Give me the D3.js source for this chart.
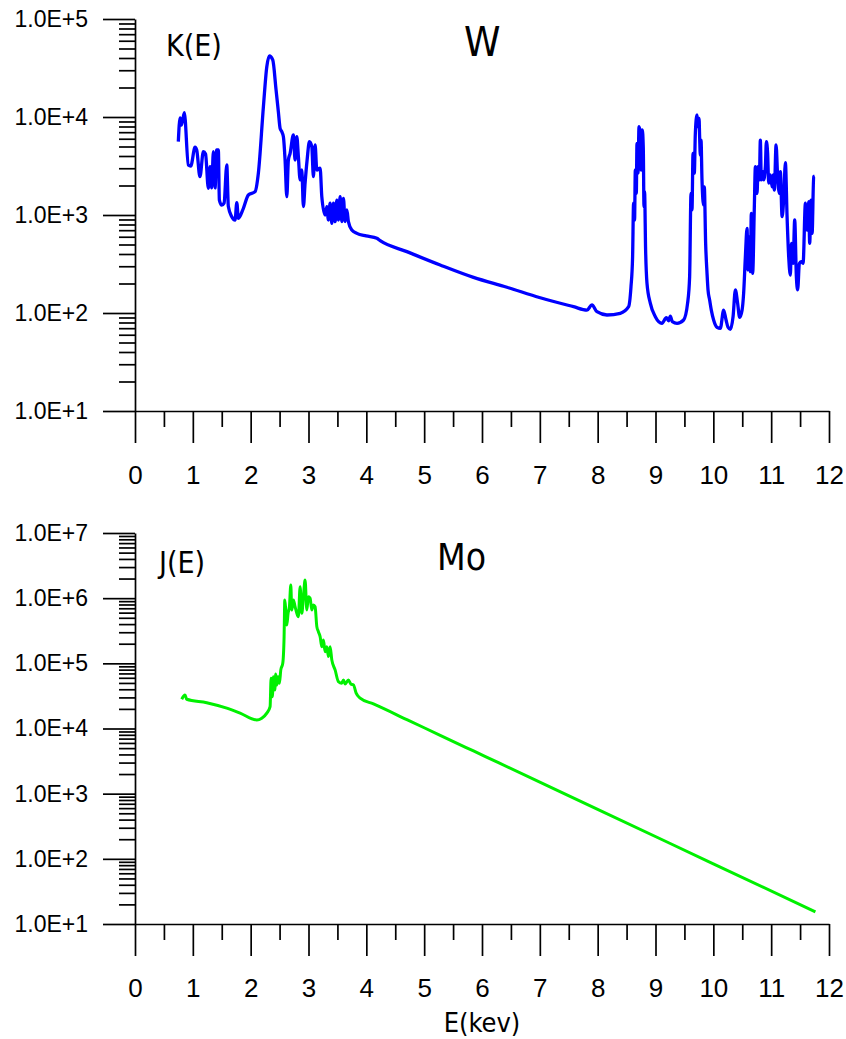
<!DOCTYPE html>
<html lang="en">
<head>
<meta charset="utf-8">
<style type="text/css">
  body { margin: 0; background: #fff; }
  svg { font-family: "DejaVu Sans Condensed", "DejaVu Sans", sans-serif; }
  .axis .domain, .axis .tick line { stroke: #000; stroke-width: 1.7px; }
  .axis text { fill: #000; }
</style>
</head>
<body>
<svg width="846" height="1039"></svg>

<script src="https://cdn.jsdelivr.net/npm/d3@7"></script>
<script type="text/javascript">
// energy axis ticks (keV)
var xTicks = [0, 1, 2, 3, 4, 5, 6, 7, 8, 9, 10, 11, 12];
var xMinor = [0.5, 1.5, 2.5, 3.5, 4.5, 5.5, 6.5, 7.5, 8.5, 9.5, 10.5, 11.5];
var yTicksW = [1e1, 1e2, 1e3, 1e4, 1e5];
var yTicksMo = [1e1, 1e2, 1e3, 1e4, 1e5, 1e6, 1e7];

// W : K(E)
var wE = [
  0.749,0.779,0.804,0.853,0.922,0.964,1.038,1.067,1.123,1.182,
  1.220,1.268,1.298,1.327,1.355,1.384,1.413,1.441,1.459,1.500,
  1.540,1.587,1.614,1.673,1.730,1.760,1.787,1.874,1.960,2.076,
  2.133,2.220,2.279,2.324,2.382,2.439,2.479,2.509,2.538,2.566,
  2.595,2.625,2.652,2.682,2.739,2.768,2.798,2.825,2.855,2.884,
  2.912,2.941,2.976,3.016,3.057,3.085,3.114,3.144,3.201,3.230,
  3.287,3.317,3.344,3.374,3.403,3.431,3.460,3.490,3.517,3.547,
  3.576,3.604,3.633,3.663,3.690,3.749,3.836,3.997,4.182,4.239,
  4.701,5.277,5.853,6.431,7.007,7.583,7.815,7.901,7.988,8.161,
  8.391,8.535,8.576,8.604,8.621,8.638,8.651,8.668,8.680,8.697,
  8.715,8.737,8.754,8.772,8.789,8.801,8.811,8.829,8.853,8.910,
  8.997,9.112,9.187,9.227,9.256,9.291,9.372,9.486,9.555,9.590,
  9.614,9.631,9.649,9.671,9.689,9.718,9.735,9.753,9.763,9.775,
  9.787,9.804,9.832,9.844,9.867,9.891,9.908,9.936,9.965,10.005,
  10.064,10.121,10.178,10.220,10.254,10.294,10.341,10.381,10.420,10.455,
  10.497,10.524,10.554,10.583,10.600,10.623,10.640,10.657,10.680,10.709,
  10.727,10.744,10.756,10.773,10.796,10.813,10.830,10.853,10.870,10.900,
  10.917,10.939,10.957,10.986,11.016,11.033,11.055,11.085,11.112,11.142,
  11.159,11.189,11.216,11.246,11.275,11.303,11.332,11.349,11.379,11.407,
  11.436,11.458,11.488,11.517,11.552,11.592,11.621,11.649,11.666,11.690,
  11.708,11.735,11.752
];
var wK = [
  5600,9770,8280,11100,3240,3160,4910,4610,2460,4430,
  4190,1870,3110,1890,4430,1890,4610,4610,1420,1260,
  1320,3240,1220,962,889,1340,925,1170,1600,1730,
  2670,12700,32600,41900,38200,18900,11300,7670,7080,6300,
  3640,1540,3640,4260,6550,3640,6300,3940,2280,2880,
  1220,2110,3640,5600,4980,2460,5180,2880,3000,1540,
  1000,1220,889,1320,823,1320,855,1420,889,1540,
  855,1480,855,1125,855,703,650,611,578,547,
  423,309,231,183,143,116,107,121,103,95.4,
  99.3,116,185,375,1320,889,2880,1660,5390,2670,
  7960,6820,2880,7370,4790,1220,1730,440,201,126,
  91.7,78.5,89.5,83.4,93.1,81.5,78.5,84.9,126,234,
  1660,1125,4260,2670,6820,10500,7960,9700,6300,4090,
  5820,2280,1260,1940,514,254,172,136,107,84.9,
  71.5,69.8,107,84.9,71.5,68.2,91.7,172,126,90.4,
  107,159,375,731,275,601,264,1040,254,1220,
  3110,2460,1660,3110,2280,5820,2280,2770,2280,3110,
  5600,4260,2110,2560,1940,2560,1800,5180,2460,1660,
  2770,962,1420,3420,962,375,244,514,321,889,
  234,172,321,334,321,1320,703,1370,514,1420,
  650,2460,2500
];

// Mo : J(E)
var moE = [
  0.808,0.865,0.894,1.24,1.587,1.817,2.106,2.192,2.279,2.336,
  2.353,2.375,2.393,2.417,2.434,2.452,2.474,2.497,2.521,2.555,
  2.578,2.590,2.607,2.625,2.647,2.670,2.694,2.711,2.739,2.768,
  2.798,2.825,2.855,2.884,2.912,2.941,2.971,2.998,3.028,3.057,
  3.085,3.114,3.144,3.171,3.201,3.230,3.258,3.287,3.317,3.344,
  3.374,3.403,3.460,3.517,3.576,3.604,3.633,3.690,3.732,3.777,
  3.824,3.893,4.123,4.701,5.277,5.853,6.285,8.0,10.0,11.765
];
var moJ = [
  28100,32700,28100,24900,20500,17200,13500,14400,17200,21700,
  59000,30800,62500,39100,68800,46700,62500,49500,79300,100000,
  257000,938000,659000,388000,586000,741000,1590000,659000,938000,741000,
  586000,520000,1500000,586000,1050000,1900000,659000,1050000,995000,659000,
  787000,741000,366000,306000,257000,180000,229000,151000,180000,127000,
  180000,113000,79300,52400,49500,55600,48300,55600,48300,46700,
  34800,29200,23800,13700,7850,4520,2990,574,84,15.4
];

var svg = d3.select("svg");

var x = d3.scaleLinear().domain([0, 12]).range([135, 829]);

function minorTicks(majors) {
  var out = [];
  majors.slice(0, -1).forEach(function(m) {
    for (var k = 2; k <= 9; k++) out.push(m * k);
  });
  return out;
}

function panel(top, bottom, yTicks, xs, ys, color, width, yName, title, titleSize, titleX) {
  var y = d3.scaleLog()
    .domain([yTicks[0], yTicks[yTicks.length - 1]])
    .range([bottom, top]);

  var g = svg.append("g");

  // minor ticks first
  g.append("g").attr("class", "axis")
    .attr("transform", "translate(135,0)")
    .call(d3.axisLeft(y).tickValues(minorTicks(yTicks)).tickSize(16).tickFormat(""))
    .select(".domain").remove();
  g.append("g").attr("class", "axis")
    .attr("transform", "translate(0," + bottom + ")")
    .call(d3.axisBottom(x).tickValues(xMinor).tickSize(16).tickFormat(""))
    .select(".domain").remove();

  g.append("g").attr("class", "axis")
    .attr("transform", "translate(135,0)")
    .call(d3.axisLeft(y).tickValues(yTicks).tickSize(32).tickSizeOuter(0).tickPadding(15)
      .tickFormat(function(d) { return "1.0E+" + Math.round(Math.log10(d)); }))
    .selectAll("text").style("font-size", "23px");

  g.append("g").attr("class", "axis")
    .attr("transform", "translate(0," + bottom + ")")
    .call(d3.axisBottom(x).tickValues(xTicks).tickSize(32).tickSizeOuter(0).tickPadding(23)
      .tickFormat(d3.format("d")))
    .selectAll("text").style("font-size", "26px");

  var line = d3.line()
    .curve(d3.curveMonotoneX)
    .x(function(d, i) { return x(xs[i]); })
    .y(function(d) { return y(d); });

  g.append("path")
    .datum(ys)
    .attr("fill", "none")
    .attr("stroke", color)
    .attr("stroke-width", width)
    .attr("stroke-linejoin", "round")
    .attr("d", line);

  g.append("text")
    .attr("x", yName[1]).attr("y", yName[2])
    .style("font-size", "30px")
    .text(yName[0]);

  g.append("text")
    .attr("x", titleX).attr("y", top + 37)
    .style("font-size", titleSize + "px")
    .text(title);
}

panel(19, 411, yTicksW, wE, wK, "#0000ff", 3.3, ["K(E)", 166, 56], "W", 41, 464);
panel(533, 924, yTicksMo, moE, moJ, "#00f000", 3, ["J(E)", 159, 573], "Mo", 37, 437);

svg.append("text")
  .attr("x", 482).attr("y", 1032)
  .attr("text-anchor", "middle")
  .style("font-size", "27px")
  .text("E(kev)");
</script>
</body>
</html>
